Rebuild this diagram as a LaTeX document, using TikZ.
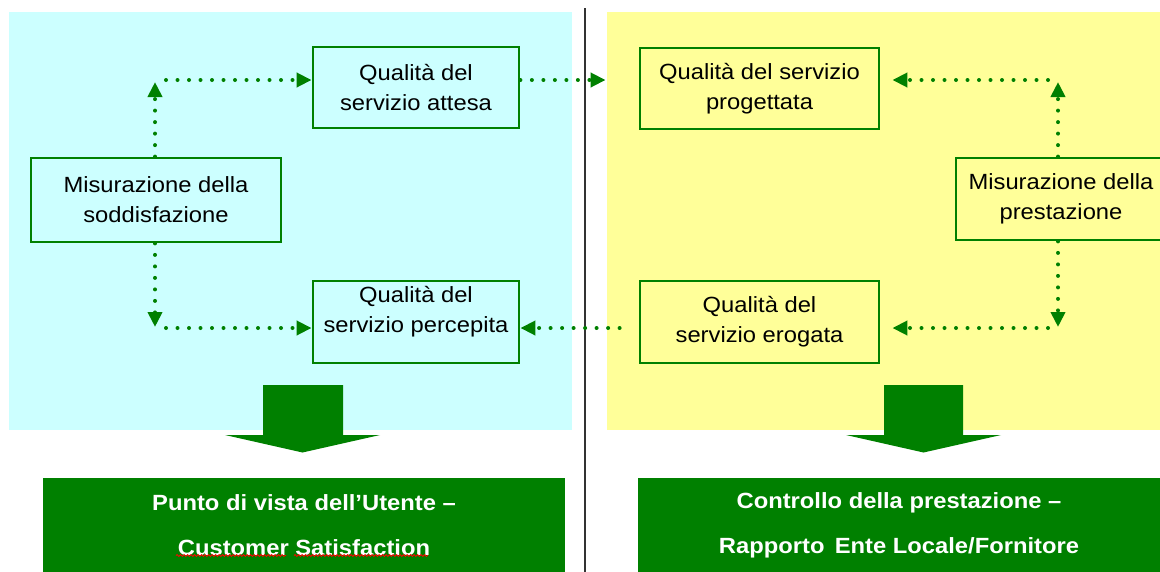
\documentclass[tikz,border=0pt]{standalone}
\usepackage{fontspec}
\setmainfont{Liberation Sans}[FakeStretch=1.08]
\usetikzlibrary{arrows.meta,decorations.pathmorphing}
\definecolor{dgreen}{HTML}{008000}
\definecolor{panelcyan}{HTML}{CCFFFF}
\definecolor{panelyellow}{HTML}{FFFF99}
\begin{document}
\begin{tikzpicture}[x=1pt,y=-1pt,
  qbox/.style={draw=dgreen,line width=2.8pt,align=center,inner sep=0pt,
    font=\fontsize{22}{30}\selectfont,text=black},
  lbl/.style={align=center,inner sep=0pt,font=\fontsize{22}{30}\selectfont,text=black},
  gbox/.style={fill=dgreen,align=center,inner sep=0pt,text=white,
    font=\bfseries\fontsize{22}{45}\selectfont},
  dotarrow/.style={dgreen,line width=4pt,line cap=round,
    dash pattern=on 0pt off 11.5pt,-{Triangle[length=15pt,width=14pt]}},
  bigarrow/.style={fill=dgreen},
  spell/.style={red,line width=0.8pt,decorate,
    decoration={snake,amplitude=1pt,segment length=3.5pt}}]
\useasboundingbox (0,0) rectangle (1160,571);
\clip (0,0) rectangle (1160,571);
% panels
\fill[panelcyan] (9,12) rectangle (572,430);
\fill[panelyellow] (607,12) rectangle (1165,430);
\draw[line width=2.5pt,black!80] (585,8) -- (585,575);
% boxes
\node[qbox,minimum width=206pt,minimum height=81pt] (attesa) at (416,87.5) {Qualità del\\servizio attesa};
\node[qbox,minimum width=250pt,minimum height=84pt] (sodd) at (156,200) {Misurazione della\\soddisfazione};
\node[qbox,minimum width=206pt,minimum height=82pt] (perc) at (416,322) {};
\node[lbl] (perctxt) at ([yshift=10pt]perc.center) {Qualità del\\servizio percepita};
\node[qbox,minimum width=239pt,minimum height=81pt] (prog) at (759.5,88.5) {Qualità del servizio\\progettata};
\node[qbox,minimum width=210pt,minimum height=82pt] (prest) at (1061,199) {Misurazione della\\prestazione};
\node[qbox,minimum width=239pt,minimum height=82pt] (erog) at (759.5,322) {Qualità del\\servizio erogata};
% connectors left
\coordinate (tl) at (155,82);
\coordinate (tlh) at (166,80);
\draw[dotarrow] (sodd.north -| tl) -- (tl);
\draw[dotarrow] (tlh) -- (attesa.west |- tlh);
\coordinate (bl) at (155,327);
\coordinate (blh) at (166,328);
\draw[dotarrow] (sodd.south -| bl) -- (bl);
\draw[dotarrow] (blh) -- (perc.west |- blh);
% middle
\draw[dotarrow,shorten >=33pt] (attesa.east |- tlh) -- (prog.west |- tlh);
\draw[dotarrow,shorten <=19pt] (erog.west |- blh) -- (perc.east |- blh);
% connectors right
\coordinate (tr) at (1058,82);
\coordinate (trh) at (1048,80);
\draw[dotarrow] (prest.north -| tr) -- (tr);
\draw[dotarrow,shorten >=12pt] (trh) -- (prog.east |- trh);
\coordinate (br) at (1058,327);
\coordinate (brh) at (1048,328);
\draw[dotarrow] (prest.south -| br) -- (br);
\draw[dotarrow,shorten >=12pt] (brh) -- (erog.east |- brh);
% big arrows
\fill[bigarrow] (263,385) -- (343,385) -- (343,435) -- (380,435) -- (302.5,452.5) -- (225,435) -- (263,435) -- cycle;
\fill[bigarrow] (884,385) -- (963,385) -- (963,435) -- (1001,435) -- (923.5,452.5) -- (846,435) -- (884,435) -- cycle;
% result boxes
\node[gbox,minimum width=522pt,minimum height=95pt] (utente) at (304,525.5) {Punto di vista dell’Utente –\\Customer Satisfaction};
\node[gbox,minimum width=522pt,minimum height=95pt] (ente) at (899,525.5) {Controllo della prestazione –\\Rapporto\, Ente Locale/Fornitore};
% spell-check marks
\draw[spell] (176,555.5) -- (286,555.5);
\draw[spell] (294,555.5) -- (428,555.5);
\end{tikzpicture}
\end{document}
